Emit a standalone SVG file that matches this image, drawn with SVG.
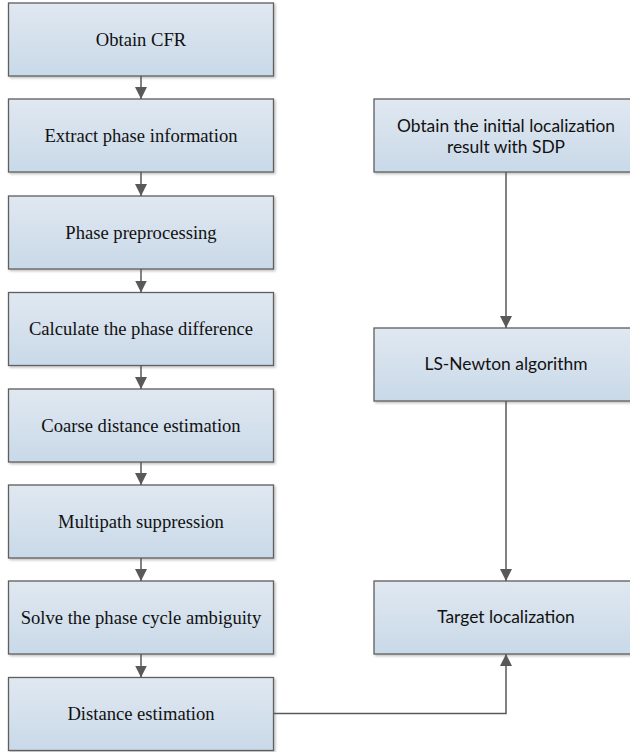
<svg xmlns="http://www.w3.org/2000/svg" width="630" height="752" viewBox="0 0 630 752">
<defs>
<linearGradient id="g" x1="0" y1="0" x2="0" y2="1">
<stop offset="0" stop-color="#e0e8f1"/>
<stop offset="1" stop-color="#c9d9e8"/>
</linearGradient>
<marker id="ah" markerWidth="12" markerHeight="12" refX="10" refY="5" orient="auto" markerUnits="userSpaceOnUse" viewBox="0 0 10 10">
<path d="M0,0 L10,5 L0,10 z" fill="#595959"/>
</marker>
<filter id="sh" x="-5%" y="-5%" width="110%" height="120%">
<feDropShadow dx="1.5" dy="1.5" stdDeviation="0.8" flood-color="#000" flood-opacity="0.25"/>
</filter>
</defs>
<style>
.box{fill:url(#g);stroke:#5f5f5f;stroke-width:1.3;filter:url(#sh)}
.ts{font-family:"Liberation Serif","Times New Roman",serif;font-size:18.6px;fill:#111;text-anchor:middle}
.tc{font-family:Lato,"Open Sans",sans-serif;font-size:17.4px;fill:#111;text-anchor:middle}
.c{fill:none;stroke:#595959;stroke-width:1.5;marker-end:url(#ah)}
</style>
<g id="n1"><rect class="box" x="8.5" y="3" width="265" height="73"/><text class="ts" x="141" y="45.5">Obtain CFR</text></g>
<g id="n2"><rect class="box" x="8.5" y="99" width="265" height="73"/><text class="ts" x="141" y="141.5">Extract phase information</text></g>
<g id="n3"><rect class="box" x="8.5" y="196" width="265" height="73"/><text class="ts" x="141" y="238.5">Phase preprocessing</text></g>
<g id="n4"><rect class="box" x="8.5" y="292.5" width="265" height="73"/><text class="ts" x="141" y="335">Calculate the phase difference</text></g>
<g id="n5"><rect class="box" x="8.5" y="389" width="265" height="73"/><text class="ts" x="141" y="431.5">Coarse distance estimation</text></g>
<g id="n6"><rect class="box" x="8.5" y="485" width="265" height="73"/><text class="ts" x="141" y="527.5">Multipath suppression</text></g>
<g id="n7"><rect class="box" x="8.5" y="581" width="265" height="73"/><text class="ts" x="141" y="623.5">Solve the phase cycle ambiguity</text></g>
<g id="n8"><rect class="box" x="8.5" y="677.5" width="265" height="73"/><text class="ts" x="141" y="720">Distance estimation</text></g>
<g id="r1"><rect class="box" x="374" y="99" width="265" height="73"/><text class="tc" x="506" y="131.5">Obtain the initial localization</text><text class="tc" x="506" y="152.5">result with SDP</text></g>
<g id="r2"><rect class="box" x="374" y="328" width="265" height="73"/><text class="tc" x="506" y="369.5">LS-Newton algorithm</text></g>
<g id="r3"><rect class="box" x="374" y="581" width="265" height="73"/><text class="tc" x="506" y="623">Target localization</text></g>
<g id="connectors">
<path class="c" d="M141,76 V99"/>
<path class="c" d="M141,172 V196"/>
<path class="c" d="M141,269 V292.5"/>
<path class="c" d="M141,365.5 V389"/>
<path class="c" d="M141,462 V485"/>
<path class="c" d="M141,558 V581"/>
<path class="c" d="M141,654 V677.5"/>
<path class="c" d="M506,172 V328"/>
<path class="c" d="M506,401 V581"/>
<path class="c" d="M273.5,713.5 H506 V654"/>
</g>
</svg>
